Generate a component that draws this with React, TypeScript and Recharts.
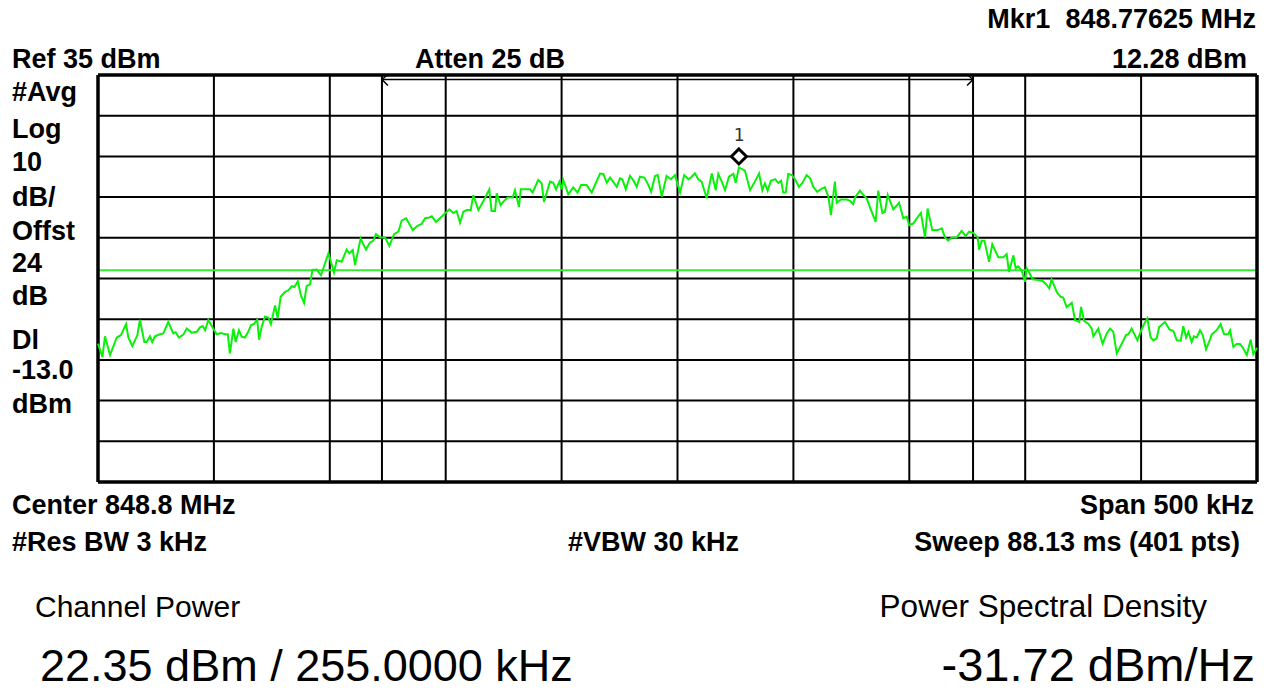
import { LineChart, Line, XAxis, YAxis, CartesianGrid, ReferenceLine, ReferenceDot } from "recharts"

// trace: [offset from centre in kHz, level in dBm]
const lowerFloor: [number, number][] = [
  [-250, -31.0], [-248.1, -34.3], [-247.0, -29.2], [-244.8, -33.8], [-241.9, -29.5],
  [-240.1, -28.9], [-237.9, -26.2], [-236.9, -29.5], [-235.2, -31.6], [-233.0, -28.9],
  [-231.9, -25.2], [-230.0, -30.6], [-229.0, -30.6], [-227.6, -29.2], [-226.6, -30.6],
  [-225.4, -29.2], [-223.3, -28.7], [-221.8, -28.5], [-219.7, -25.7], [-217.5, -28.5],
  [-216.5, -28.2], [-215.1, -29.5], [-213.2, -28.8], [-211.7, -27.3], [-209.6, -28.3],
  [-207.4, -28.1], [-206.0, -27.0], [-204.8, -26.7], [-203.8, -27.7], [-202.4, -25.2],
  [-200.3, -27.3], [-198.8, -28.7], [-196.9, -28.4], [-195.2, -28.7], [-194.0, -28.7],
  [-193.1, -33.4], [-191.6, -27.3], [-190.6, -30.6], [-189.2, -27.7], [-188.0, -29.3],
  [-186.6, -29.5], [-185.2, -28.1], [-184.0, -26.5], [-182.6, -26.1], [-181.3, -25.1],
]

const lowerSkirt: [number, number][] = [
  [-180.5, -30.0], [-179.4, -26.9], [-178.0, -24.4], [-176.5, -24.6], [-175.4, -26.2],
  [-173.6, -21.6], [-172.5, -24.8], [-171.2, -19.5], [-169.3, -18.3], [-167.9, -17.9],
  [-166.4, -16.9], [-165.3, -17.1], [-163.8, -15.7], [-162.4, -19.3], [-161.1, -21.0],
  [-160.0, -16.9], [-158.5, -16.4], [-157.5, -12.9], [-155.7, -12.8], [-153.8, -14.2],
  [-150.6, -8.8], [-148.2, -13.5], [-147.0, -10.5], [-144.9, -10.9], [-142.7, -7.9],
  [-141.6, -8.8], [-140.1, -8.0], [-139.1, -11.7], [-136.7, -5.2], [-134.4, -7.9],
  [-132.7, -6.2], [-131.2, -5.7], [-130.1, -4.1], [-128.3, -4.9], [-126.2, -4.9],
  [-124.3, -7.0], [-122.3, -4.1], [-120.4, -3.5], [-119.0, -0.8], [-117.1, -0.2],
  [-114.2, -3.1], [-112.3, -2.1], [-110.4, -1.6], [-108.9, -0.2], [-107.1, 0.0],
  [-106.0, 0.3], [-104.2, -1.1],
]

const channelLow: [number, number][] = [
  [-101.0, 0.6], [-98.4, 2.0], [-96.7, 1.1], [-95.3, 1.6], [-93.8, -1.3],
  [-92.4, 1.4], [-90.9, 1.8], [-89.2, 1.8], [-88.1, 5.5], [-85.9, 1.8],
  [-83.5, 4.3], [-81.2, 6.9], [-80.2, 1.6], [-78.7, 1.6], [-78.0, 5.9],
  [-76.3, 3.0], [-75.2, 3.8], [-73.4, 4.9], [-71.1, 4.9], [-70.1, 6.7],
  [-68.4, 2.6], [-67.6, 6.9], [-63.6, 6.9], [-62.5, 6.1], [-60.1, 9.2],
  [-58.6, 8.4], [-57.6, 3.8], [-55.0, 8.8], [-53.6, 8.5], [-52.4, 6.9],
  [-51.0, 8.8], [-50.0, 6.9], [-49.3, 9.2], [-47.1, 5.7], [-45.0, 7.4],
  [-43.1, 6.1], [-41.6, 8.0], [-39.2, 8.0], [-37.0, 6.1], [-35.3, 8.4],
  [-33.4, 10.8], [-32.0, 10.7], [-30.5, 8.5], [-29.1, 9.8], [-27.3, 8.4],
  [-26.2, 7.5], [-24.8, 9.6], [-23.8, 9.4], [-22.3, 6.9], [-20.5, 10.2],
  [-19.1, 9.2], [-17.6, 7.5], [-16.2, 10.0], [-14.3, 9.8], [-12.6, 8.0],
  [-11.4, 6.3], [-9.7, 10.2], [-8.5, 10.4], [-6.8, 5.1], [-4.7, 10.2],
  [-2.8, 9.4], [-1.1, 10.4],
]

const channelHigh: [number, number][] = [
  [1.1, 6.1], [2.9, 10.4], [4.7, 9.4], [5.8, 9.8], [7.5, 10.8],
  [9.0, 9.4], [10.4, 8.8], [12.6, 4.7], [14.8, 10.8], [16.5, 6.7],
  [17.6, 10.7], [19.1, 8.8], [20.5, 6.7], [22.2, 10.0], [24.1, 10.7],
  [25.1, 8.5], [26.5, 12.28], [29.1, 11.5], [31.3, 6.7], [33.1, 8.5],
  [35.2, 10.8], [36.6, 6.7], [37.7, 8.4], [38.9, 6.6], [40.3, 9.0],
  [42.1, 9.4], [43.5, 8.5], [44.7, 9.0], [45.6, 6.1], [46.7, 6.1],
  [47.8, 10.7], [49.3, 10.4], [50.7, 9.4], [52.4, 7.5], [53.8, 8.4],
  [55.7, 10.4], [57.2, 9.6], [58.6, 7.5], [60.3, 6.3], [62.2, 7.1],
  [63.6, 7.4], [65.1, 5.1], [66.2, 0.6], [67.9, 8.8], [68.7, 3.6],
  [70.5, 4.4], [73.0, 4.4], [74.4, 4.1], [75.8, 3.3], [76.6, 4.9],
  [78.7, 6.6], [80.2, 5.5], [81.6, 4.7], [83.5, 1.8], [85.5, -1.1],
  [86.6, 6.6], [88.4, 1.1], [89.5, 1.4], [90.7, 5.5], [93.1, 2.0],
  [95.6, 3.6], [97.4, -0.2], [98.9, 0.2], [99.9, -1.9], [101.7, -1.5],
  [103.9, 0.3], [105.0, 1.1], [106.8, -4.9], [107.9, 2.2], [109.9, -3.1],
  [112.3, -3.1], [114.0, -2.7], [115.4, -4.9], [116.8, -5.7], [118.3, -4.9],
  [120.4, -4.9], [122.6, -3.3], [124.3, -4.6], [125.8, -3.5], [127.6, -3.8],
]

const upperSkirt: [number, number][] = [
  [129.5, -4.9], [130.1, -7.9], [131.2, -5.7], [132.4, -5.7], [134.4, -10.9],
  [135.8, -6.6], [138.4, -9.8], [140.6, -9.8], [142.0, -9.0], [143.0, -13.4],
  [144.9, -9.3], [145.9, -12.5], [147.0, -12.0], [148.5, -13.1], [149.9, -15.8],
  [150.6, -12.5], [151.3, -13.1], [153.2, -15.2], [155.7, -15.4], [157.5, -15.6],
  [159.0, -16.4], [160.4, -17.4], [161.4, -15.2], [163.6, -18.3], [165.3, -19.5],
  [166.4, -19.7], [167.9, -22.0], [170.1, -21.0],
]

const upperFloor: [number, number][] = [
  [171.5, -25.2], [173.3, -25.7], [174.1, -22.0], [175.4, -25.4], [177.2, -26.1],
  [178.7, -27.3], [179.4, -29.2], [181.5, -27.3], [183.4, -31.0], [185.2, -28.5],
  [186.6, -27.3], [188.0, -28.1], [189.5, -33.4], [191.6, -31.1], [193.5, -28.9],
  [194.5, -28.7], [195.9, -27.3], [198.4, -30.2], [199.8, -28.1], [201.0, -26.5],
  [202.7, -24.8], [204.1, -29.5], [205.3, -30.2], [206.7, -29.7], [207.8, -26.9],
  [210.3, -25.7], [212.2, -27.5], [213.9, -27.9], [215.4, -30.2], [217.1, -30.3],
  [218.2, -26.7], [219.4, -29.5], [220.4, -28.1], [221.8, -30.6], [222.8, -29.2],
  [224.0, -29.5], [225.4, -27.7], [226.6, -28.9], [228.0, -32.4], [229.7, -30.0],
  [230.5, -28.7], [232.6, -27.7], [234.3, -26.2], [235.8, -28.7], [237.6, -28.7],
  [238.4, -27.7], [239.8, -31.8], [241.2, -31.1], [242.7, -31.1], [243.8, -31.9],
  [245.6, -33.8], [247.3, -30.0], [248.4, -33.6], [250.0, -32.0],
]

const freqTicksKHz = [-250, -200, -150, -100, -50, 0, 50, 100, 150, 200, 250]
const levelTicksDbm = [35, 25, 15, 5, -5, -15, -25, -35, -45, -55, -65]
const channelEdgesKHz = [-127.5, 127.5]
const channelBarDbm = 33.9
const displayLineDbm = -13
const markerPoint = { f: 26.5, dbm: 12.28 }

const leftLabels = ["#Avg", "Log", "10", "dB/", "Offst", "24", "dB", "Dl", "-13.0", "dBm"]
const leftBaselines = [101, 138, 171, 206, 240, 272, 305, 349, 379, 413]

const trace = [lowerFloor, lowerSkirt, channelLow, channelHigh, upperSkirt, upperFloor]
  .flat()
  .map(([f, dbm]) => ({ f, dbm }))

const TRACE_GREEN = "#0af00a"
const bold = { fontFamily: "'Liberation Sans', Arial, sans-serif", fontWeight: 700, fontSize: 27, fill: "#000" }
const plain = { fontFamily: "'Liberation Sans', Arial, sans-serif", fontWeight: 400, fill: "#000" }

// diamond sits just above the trace point, with the marker number over it
function MarkerShape(props: any) {
  const { cx, cy } = props
  const c = cy - 11
  const h = 7.5
  return (
    <g>
      <path d={`M${cx},${c - h} L${cx + h},${c} L${cx},${c + h} L${cx - h},${c} Z`} fill="#fff" stroke="#000" strokeWidth={3} />
      <text x={cx} y={c - 15} textAnchor="middle" fontFamily="'DejaVu Sans Mono', monospace" fontSize={18} fill="#333">1</text>
    </g>
  )
}

function ArrowHead({ cx, cy, dir }: any) {
  const d = dir * 6
  return <path d={`M${cx + d},${cy - 5} L${cx},${cy} L${cx + d},${cy + 6}`} fill="none" stroke="#000" strokeWidth={1.5} />
}

export default function App() {
  return (
    <div style={{ position: "absolute", left: 0, top: 0, width: 1270, height: 692, background: "#fff" }}>
      <LineChart width={1270} height={692} data={trace} margin={{ top: 75, right: 13, bottom: 210, left: 98 }}>
        <XAxis type="number" dataKey="f" domain={[-250, 250]} ticks={freqTicksKHz} hide />
        <YAxis type="number" domain={[-65, 35]} ticks={levelTicksDbm} hide />
        <CartesianGrid stroke="#000" strokeWidth={2} />
        {channelEdgesKHz.map((f) => (
          <ReferenceLine key={f} x={f} stroke="#000" strokeWidth={2} />
        ))}
        <ReferenceLine
          segment={[{ x: channelEdgesKHz[0], y: channelBarDbm }, { x: channelEdgesKHz[1], y: channelBarDbm }]}
          stroke="#000"
          strokeWidth={1.5}
        />
        <ReferenceDot x={channelEdgesKHz[0]} y={channelBarDbm} shape={(p: any) => <ArrowHead {...p} dir={1} />} />
        <ReferenceDot x={channelEdgesKHz[1]} y={channelBarDbm} shape={(p: any) => <ArrowHead {...p} dir={-1} />} />
        <ReferenceLine y={displayLineDbm} stroke="#33ec33" strokeWidth={2} />
        <ReferenceLine x={-250} stroke="#000" strokeWidth={3.5} />
        <ReferenceLine x={250} stroke="#000" strokeWidth={3.5} />
        <ReferenceLine y={35} stroke="#000" strokeWidth={3.5} />
        <ReferenceLine y={-65} stroke="#000" strokeWidth={3.5} />
        <Line type="linear" dataKey="dbm" stroke={TRACE_GREEN} strokeWidth={2} dot={false} isAnimationActive={false} />
        <ReferenceDot x={markerPoint.f} y={markerPoint.dbm} shape={MarkerShape} />
      </LineChart>

      <svg width={1270} height={692} style={{ position: "absolute", left: 0, top: 0, pointerEvents: "none" }}>
        <text {...bold} x={1256} y={28} textAnchor="end" style={{ whiteSpace: "pre" }}>Mkr1  848.77625 MHz</text>
        <text {...bold} x={12} y={68}>Ref 35 dBm</text>
        <text {...bold} x={415} y={68}>Atten 25 dB</text>
        <text {...bold} x={1247} y={68} textAnchor="end">12.28 dBm</text>
        {leftLabels.map((t, i) => (
          <text key={t + i} {...bold} x={12} y={leftBaselines[i]}>{t}</text>
        ))}
        <text {...bold} x={12} y={514}>Center 848.8 MHz</text>
        <text {...bold} x={1254} y={514} textAnchor="end">Span 500 kHz</text>
        <text {...bold} x={12} y={551}>#Res BW 3 kHz</text>
        <text {...bold} x={568} y={551}>#VBW 30 kHz</text>
        <text {...bold} x={1240} y={551} textAnchor="end">Sweep 88.13 ms (401 pts)</text>
        <text {...plain} fontSize={30} x={35} y={617}>Channel Power</text>
        <text {...plain} fontSize={31.5} x={1207} y={617} textAnchor="end">Power Spectral Density</text>
        <text {...plain} fontSize={45} x={40} y={681}>22.35 dBm / 255.0000 kHz</text>
        <text {...plain} fontSize={47} x={1255} y={681} textAnchor="end">-31.72 dBm/Hz</text>
      </svg>
    </div>
  )
}
